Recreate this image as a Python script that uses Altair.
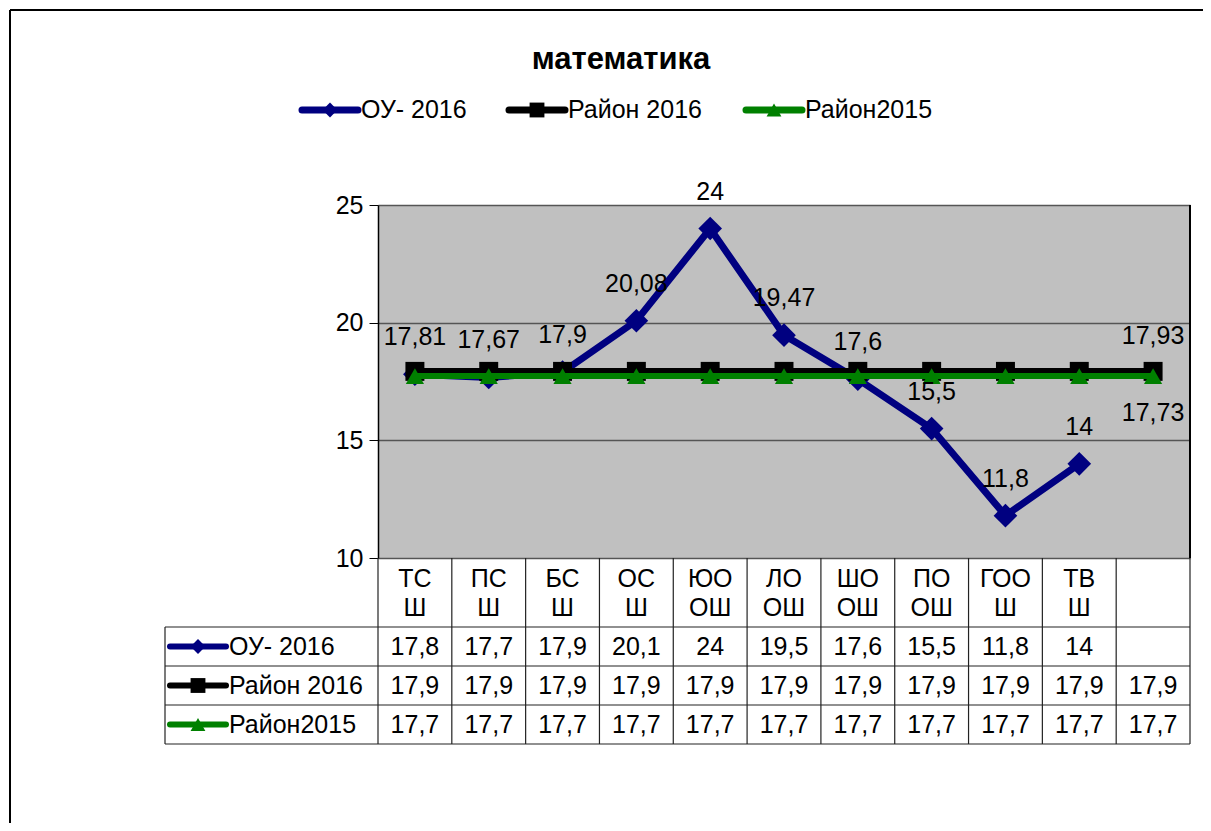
import altair as alt
import pandas as pd

# ---------------- data ----------------
title_text = ["математика"]
cat_top = ["ТС", "ПС", "БС", "ОС", "ЮО", "ЛО", "ШО", "ПО", "ГОО", "ТВ", ""]
cat_bottom = ["Ш", "Ш", "Ш", "Ш", "ОШ", "ОШ", "ОШ", "ОШ", "Ш", "Ш", ""]
series_names = ["ОУ- 2016", "Район 2016", "Район2015"]
ou_2016 = [17.81, 17.67, 17.9, 20.08, 24, 19.47, 17.6, 15.5, 11.8, 14, None]
rayon_2016 = [17.93] * 11
rayon_2015 = [17.73] * 11
y_ticks = [10, 15, 20, 25]

colors = ["#000080", "#000000", "#008000"]
shapes = ["diamond", "square", "triangle-up"]

FONT = "Liberation Sans"
FS = 25

n = len(cat_top)
W, H = 812, 353          # plot area (grey region)
LEFTW = 213              # width of the series-name column of the table
ROW_TOP = [422, 461, 500]  # top of the three data rows (px, relative to plot)
ROW_H = 39
TABLE_BOTTOM = 539
PAD = {"left": 370, "top": 197, "right": 13, "bottom": 265}


def fmt(v, nd=None):
    if v is None:
        return ""
    if nd is not None:
        v = round(v, nd)
    return f"{v:g}".replace(".", ",")


series_vals = [ou_2016, rayon_2016, rayon_2015]
rows = []
for s, vals in zip(series_names, series_vals):
    for i, v in enumerate(vals):
        rows.append({"series": s, "i": i, "v": v, "lab": fmt(v), "tab": fmt(v, 1)})
df = pd.DataFrame(rows)
cats = pd.DataFrame({"i": list(range(n)), "top": cat_top, "bottom": cat_bottom})

xs = alt.Scale(domain=[-0.5, n - 0.5], nice=False, zero=False)
ys = alt.Scale(domain=[10, 25], nice=False, zero=False)
X = alt.X("i:Q", scale=xs, axis=None)

layers = []

# right border of the plot area
layers.append(alt.Chart(pd.DataFrame({"i": [n - 0.5]})).mark_rule(color="#000000", strokeWidth=2)
              .encode(x=X, y=alt.value(0), y2=alt.value(H)))

# y axis with gridlines
axis_layer = alt.Chart(pd.DataFrame({"v": y_ticks})).mark_rule(opacity=0).encode(
    y=alt.Y("v:Q", scale=ys, axis=alt.Axis(values=y_ticks, title=None, labelFont=FONT,
                                           labelFontSize=FS, labelColor="#000000",
                                           labelPadding=6, tickSize=9, tickColor="#000000",
                                           domainColor="#000000", domainWidth=1.5,
                                           grid=True, gridColor="#555555", gridWidth=1.5)),
)
layers.append(axis_layer)

# lines + markers
for s, c, sh, sw, size in zip(series_names, colors, shapes, [7, 7, 6], [560, 360, 330]):
    d = df[(df.series == s) & df.v.notna()]
    base = alt.Chart(d).encode(x=X, y=alt.Y("v:Q", scale=ys))
    layers.append(base.mark_line(color=c, strokeWidth=sw))
    layers.append(base.mark_point(shape=sh, filled=True, opacity=1, color=c, size=size))

# data labels
ou_df = df[(df.series == series_names[0]) & df.v.notna()]
layers.append(alt.Chart(ou_df).mark_text(font=FONT, fontSize=FS, dy=-37, color="#000000")
              .encode(x=X, y=alt.Y("v:Q", scale=ys), text="lab:N"))
r16_last = df[(df.series == series_names[1]) & (df.i == n - 1)]
layers.append(alt.Chart(r16_last).mark_text(font=FONT, fontSize=FS, dy=-35, color="#000000")
              .encode(x=X, y=alt.Y("v:Q", scale=ys), text="lab:N"))
r15_last = df[(df.series == series_names[2]) & (df.i == n - 1)]
layers.append(alt.Chart(r15_last).mark_text(font=FONT, fontSize=FS, dy=37, color="#000000")
              .encode(x=X, y=alt.Y("v:Q", scale=ys), text="lab:N"))

# ---------------- data table ----------------
grid_color = "#222222"
layers.append(alt.Chart(pd.DataFrame({"i": [k - 0.5 for k in range(n + 1)]}))
              .mark_rule(color=grid_color, strokeWidth=1.2)
              .encode(x=X, y=alt.value(H), y2=alt.value(TABLE_BOTTOM)))
for yy in ROW_TOP + [TABLE_BOTTOM]:
    layers.append(alt.Chart(pd.DataFrame({"a": [0]})).mark_rule(color=grid_color, strokeWidth=1.2)
                  .encode(x=alt.value(-LEFTW), x2=alt.value(W), y=alt.value(yy)))
layers.append(alt.Chart(pd.DataFrame({"a": [0]})).mark_rule(color=grid_color, strokeWidth=1.2)
              .encode(x=alt.value(-LEFTW), y=alt.value(ROW_TOP[0]), y2=alt.value(TABLE_BOTTOM)))

# category header
layers.append(alt.Chart(cats).mark_text(font=FONT, fontSize=FS, color="#000000")
              .encode(x=X, y=alt.value(H + 21), text="top:N"))
layers.append(alt.Chart(cats).mark_text(font=FONT, fontSize=FS, color="#000000")
              .encode(x=X, y=alt.value(H + 50), text="bottom:N"))

# table values and series name column
for r, (s, c, sh) in enumerate(zip(series_names, colors, shapes)):
    yc = ROW_TOP[r] + ROW_H / 2
    d = df[df.series == s]
    layers.append(alt.Chart(d).mark_text(font=FONT, fontSize=FS, color="#000000")
                  .encode(x=X, y=alt.value(yc), text="tab:N"))
    one = pd.DataFrame({"name": [s]})
    layers.append(alt.Chart(one).mark_rule(color=c, strokeWidth=6, strokeCap="round")
                  .encode(x=alt.value(-208), x2=alt.value(-152), y=alt.value(yc)))
    layers.append(alt.Chart(one).mark_point(shape=sh, filled=True, opacity=1, color=c, size=220)
                  .encode(x=alt.value(-180), y=alt.value(yc)))
    layers.append(alt.Chart(one).mark_text(font=FONT, fontSize=FS, align="left", color="#000000")
                  .encode(x=alt.value(-149), y=alt.value(yc), text="name:N"))

# ---------------- top legend ----------------
leg_x = [-76, 131, 368]
leg_y = -95
for s, c, sh, lx in zip(series_names, colors, shapes, leg_x):
    one = pd.DataFrame({"name": [s]})
    layers.append(alt.Chart(one).mark_rule(color=c, strokeWidth=7, strokeCap="round")
                  .encode(x=alt.value(lx), x2=alt.value(lx + 56), y=alt.value(leg_y)))
    layers.append(alt.Chart(one).mark_point(shape=sh, filled=True, opacity=1, color=c, size=220)
                  .encode(x=alt.value(lx + 28), y=alt.value(leg_y)))
    layers.append(alt.Chart(one).mark_text(font=FONT, fontSize=FS, align="left", color="#000000")
                  .encode(x=alt.value(lx + 59), y=alt.value(leg_y), text="name:N"))

# title
layers.append(alt.Chart(pd.DataFrame({"t": title_text})).mark_text(
    font=FONT, fontSize=31, fontWeight="bold", color="#000000")
    .encode(x=alt.value(W / 2 - 163), y=alt.value(-145), text="t:N"))

# outer frame
layers.append(alt.Chart(pd.DataFrame({"a": [0]})).mark_rule(color="#000000", strokeWidth=2)
              .encode(x=alt.value(-368), y=alt.value(-195), y2=alt.value(H + PAD["bottom"])))
layers.append(alt.Chart(pd.DataFrame({"a": [0]})).mark_rule(color="#000000", strokeWidth=2)
              .encode(x=alt.value(-368), x2=alt.value(W + PAD["right"]), y=alt.value(-195)))

chart = alt.layer(*layers).properties(
    width=W, height=H,
    autosize=alt.AutoSizeParams(type="none"),
    padding=PAD,
    background="#ffffff",
).configure_view(fill="#C0C0C0", stroke=None)

chart.save("out.html", embed_options={"renderer": "svg", "actions": False})
